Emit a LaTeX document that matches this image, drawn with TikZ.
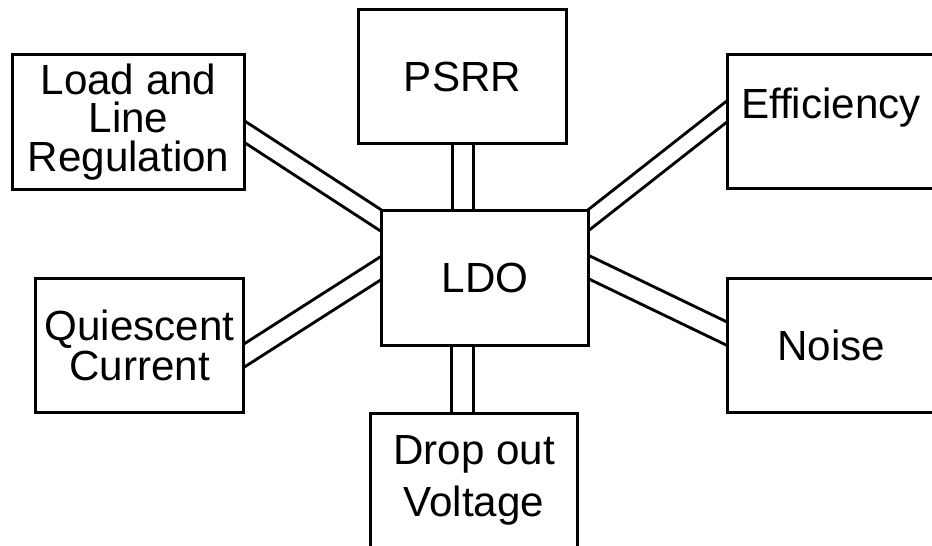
\documentclass[tikz,border=0pt]{standalone}
\usepackage{fontspec}
\setsansfont{Liberation Sans}
\usetikzlibrary{calc,backgrounds}

\begin{document}
\begin{tikzpicture}[
  x=0.02cm, y=-0.02cm,
  font=\sffamily\fontsize{24pt}{24pt}\selectfont,
  block/.style={draw=black,fill=white,line width=0.06cm,minimum width=4.16cm,minimum height=2.7cm,inner sep=0pt,align=center},
  link/.style={draw=black,line width=0.06cm,double=white,double distance=#1,shorten <=-0.3cm,shorten >=-0.3cm},
  link/.default=0.3cm
]
\useasboundingbox (0,0) rectangle (932,546);

\node[block] (ldo) at (485,278) {LDO};
\node[block] (psrr) at (462.5,76.5) {PSRR};
\node[block,minimum width=4.66cm] (load) at (128.5,122) {Load and\\[-2pt]Line\\[-2pt]Regulation};
\node[block,text depth=0.75cm] (eff) at (831,121.5) {Efficiency};
\node[block] (quies) at (139.5,345.5) {Quiescent\\[-1pt]Current};
\node[block] (noise) at (831,345.5) {Noise};
\node[block] (drop) at (474,480.5) {Drop out\\[5.7pt]Voltage};

\begin{scope}[on background layer]
\draw[link=0.3cm] ($(load.east)+(0,11)$) -- ($(ldo.north west)+(0,10.5)$);
\draw[link=0.36cm] (psrr.south) -- (psrr.south |- ldo.north);
\draw[link=0.27cm] ($(ldo.north east)+(0,9.5)$) -- ($(eff.west)+(0,-9)$);
\draw[link=0.33cm] ($(quies.east)+(0,9.5)$) -- ($(ldo.west)+(0,-9)$);
\draw[link=0.36cm] ($(ldo.east)+(0,-10)$) -- ($(noise.west)+(0,-12.5)$);
\draw[link=0.38cm] ($(ldo.south)+(-23,0)$) -- ($(drop.north)+(-12,0)$);
\end{scope}
\end{tikzpicture}
\end{document}
